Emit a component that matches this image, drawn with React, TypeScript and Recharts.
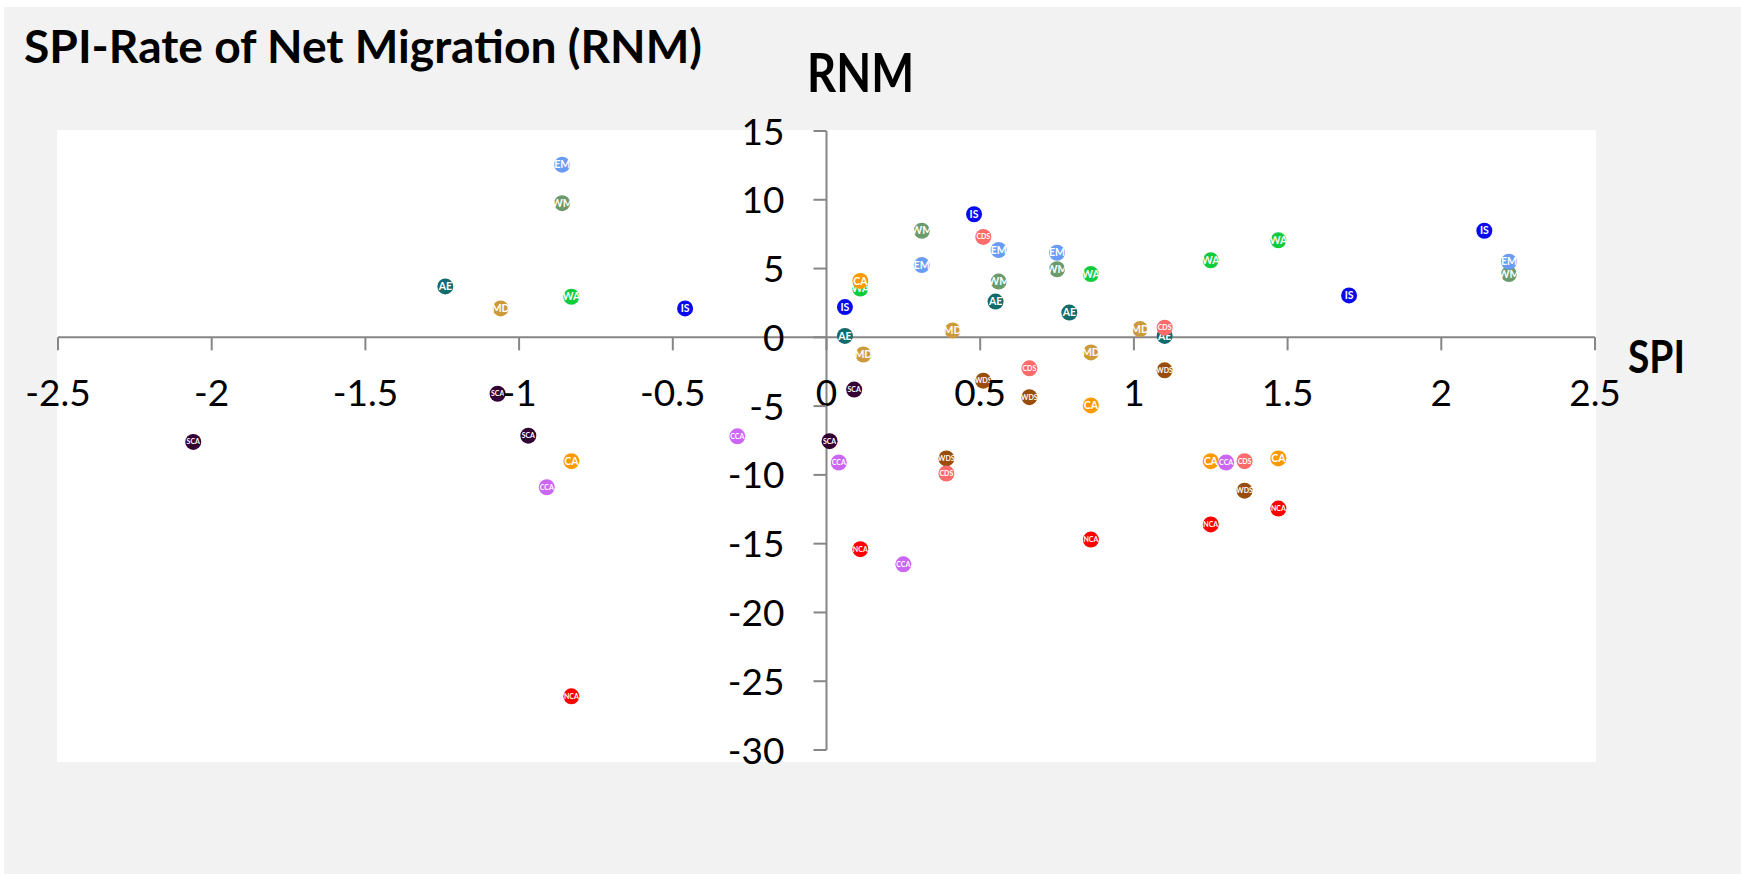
import { ScatterChart, Scatter, XAxis, YAxis, ReferenceLine } from 'recharts';

// axis ticks
const spiTicks = [-2.5, -2, -1.5, -1, -0.5, 0, 0.5, 1, 1.5, 2, 2.5];
const rnmTicks = [15, 10, 5, 0, -5, -10, -15, -20, -25, -30];

// SPI (x) and RNM (y) per region
const scaSpi = [-2.06, -1.07, -0.97, 0.01, 0.09];
const scaRnm = [-7.6, -4.1, -7.15, -7.55, -3.8];
const mdSpi = [-1.06, 0.12, 0.41, 0.86, 1.02];
const mdRnm = [2.1, -1.25, 0.5, -1.1, 0.6];
const aeSpi = [-1.24, 0.06, 0.55, 0.79, 1.1];
const aeRnm = [3.7, 0.1, 2.6, 1.8, 0.1];
const wmSpi = [-0.86, 0.31, 0.56, 0.75, 2.22];
const wmRnm = [9.75, 7.75, 4.05, 4.95, 4.6];
const emSpi = [-0.86, 0.31, 0.56, 0.75, 2.22];
const emRnm = [12.55, 5.25, 6.35, 6.15, 5.5];
const waSpi = [-0.83, 0.11, 0.86, 1.25, 1.47];
const waRnm = [2.95, 3.55, 4.6, 5.6, 7.05];
const caSpi = [-0.83, 0.11, 0.86, 1.25, 1.47];
const caRnm = [-9.0, 4.1, -4.95, -9.0, -8.8];
const isSpi = [-0.46, 0.06, 0.48, 1.7, 2.14];
const isRnm = [2.1, 2.2, 8.95, 3.05, 7.75];
const ccaSpi = [-0.91, -0.29, 0.04, 0.25, 1.3];
const ccaRnm = [-10.9, -7.2, -9.1, -16.5, -9.1];
const wdsSpi = [0.39, 0.51, 0.66, 1.1, 1.36];
const wdsRnm = [-8.8, -3.15, -4.35, -2.4, -11.15];
const cdsSpi = [0.39, 0.51, 0.66, 1.1, 1.36];
const cdsRnm = [-9.9, 7.3, -2.25, 0.7, -9.0];
const ncaSpi = [-0.83, 0.11, 0.86, 1.25, 1.47];
const ncaRnm = [-26.1, -15.4, -14.7, -13.6, -12.45];

const toPoints = (xs: number[], ys: number[]) => xs.map((x, i) => ({ spi: x, rnm: ys[i] }));

const regions = [
  { name: 'SCA', color: '#330033', data: toPoints(scaSpi, scaRnm) },
  { name: 'MD', color: '#cc9a3a', data: toPoints(mdSpi, mdRnm) },
  { name: 'AE', color: '#136b6b', data: toPoints(aeSpi, aeRnm) },
  { name: 'WM', color: '#6b9a6b', data: toPoints(wmSpi, wmRnm) },
  { name: 'EM', color: '#6b9cf5', data: toPoints(emSpi, emRnm) },
  { name: 'WA', color: '#0fcc3a', data: toPoints(waSpi, waRnm) },
  { name: 'CA', color: '#ff9900', data: toPoints(caSpi, caRnm) },
  { name: 'IS', color: '#0a0aee', data: toPoints(isSpi, isRnm) },
  { name: 'CCA', color: '#cc66f5', data: toPoints(ccaSpi, ccaRnm) },
  { name: 'WDS', color: '#994d0a', data: toPoints(wdsSpi, wdsRnm) },
  { name: 'CDS', color: '#ff6b6b', data: toPoints(cdsSpi, cdsRnm) },
  { name: 'NCA', color: '#ff0000', data: toPoints(ncaSpi, ncaRnm) },
];

const W = 1741;
const H = 874;
const LEFT = 58;
const TOP = 131;
const PLOT_W = 1537;
const PLOT_H = 619;
const X_AXIS_H = 30;
const Y_AXIS_W = 40;
const ZERO_X = LEFT + PLOT_W * (2.5 / 5);
const ZERO_Y = TOP + PLOT_H * (15 / 45);
const AXIS = '#868686';
const FONT = 'Lato, "Open Sans", sans-serif';

const SpiTick = (props: any) => {
  const { x, payload } = props;
  return (
    <g>
      <line x1={x} x2={x} y1={ZERO_Y} y2={ZERO_Y + 13} stroke={AXIS} strokeWidth={2} />
      <text x={x} y={ZERO_Y + 69} textAnchor="middle" fontSize={37} fontFamily={FONT} fill="#000">
        {payload.value}
      </text>
    </g>
  );
};

const RnmTick = (props: any) => {
  const { y, payload } = props;
  return (
    <g>
      <line x1={ZERO_X - 13} x2={ZERO_X} y1={y} y2={y} stroke={AXIS} strokeWidth={2} />
      <text x={ZERO_X - 42} y={y + 13.5} textAnchor="end" fontSize={37} fontFamily={FONT} fill="#000">
        {payload.value}
      </text>
    </g>
  );
};

const makeMarker = (label: string, color: string) => (props: any) => {
  const { cx, cy } = props;
  return (
    <g>
      <circle cx={cx} cy={cy} r={8} fill={color} />
      <text
        x={cx}
        y={cy}
        dy="0.35em"
        textAnchor="middle"
        fontSize={label.length > 2 ? 7 : 10.5}
        fontWeight={700}
        fontFamily={FONT}
        fill="#fff"
      >
        {label}
      </text>
    </g>
  );
};

export default function App() {
  return (
    <div style={{ position: 'absolute', left: 0, top: 0, width: W, height: H, background: '#fff' }}>
      <div style={{ position: 'absolute', left: 4, top: 7, width: W - 4, height: H - 7, background: '#f2f2f2' }} />
      <div style={{ position: 'absolute', left: 57, top: 130, width: 1539, height: 632, background: '#fff' }} />
      <svg width={W} height={H} style={{ position: 'absolute', left: 0, top: 0 }}>
        <text x={24} y={63} fontSize={45} fontWeight={700} fontFamily={FONT} textLength={678} lengthAdjust="spacingAndGlyphs">
          SPI-Rate of Net Migration (RNM)
        </text>
        <text x={807} y={92} fontSize={54} fontWeight={700} fontFamily={FONT} textLength={107} lengthAdjust="spacingAndGlyphs">
          RNM
        </text>
        <text x={1628} y={373} fontSize={46} fontWeight={700} fontFamily={FONT} textLength={57} lengthAdjust="spacingAndGlyphs">
          SPI
        </text>
      </svg>
      <div style={{ position: 'absolute', left: 0, top: 0 }}>
        <ScatterChart
          width={W}
          height={H}
          margin={{
            top: TOP,
            right: W - LEFT - PLOT_W,
            bottom: H - TOP - PLOT_H - X_AXIS_H,
            left: LEFT - Y_AXIS_W,
          }}
        >
          <XAxis
            type="number"
            dataKey="spi"
            domain={[-2.5, 2.5]}
            ticks={spiTicks}
            height={X_AXIS_H}
            axisLine={false}
            tickLine={false}
            tick={<SpiTick />}
            interval={0}
            allowDataOverflow
          />
          <YAxis
            type="number"
            dataKey="rnm"
            domain={[-30, 15]}
            ticks={rnmTicks}
            width={Y_AXIS_W}
            axisLine={false}
            tickLine={false}
            tick={<RnmTick />}
            interval={0}
            allowDataOverflow
          />
          <ReferenceLine y={0} stroke={AXIS} strokeWidth={2} />
          <ReferenceLine x={0} stroke={AXIS} strokeWidth={2} />
          {regions.map((r) => (
            <Scatter
              key={r.name}
              name={r.name}
              data={r.data}
              fill={r.color}
              shape={makeMarker(r.name, r.color)}
              isAnimationActive={false}
            />
          ))}
        </ScatterChart>
      </div>
    </div>
  );
}
